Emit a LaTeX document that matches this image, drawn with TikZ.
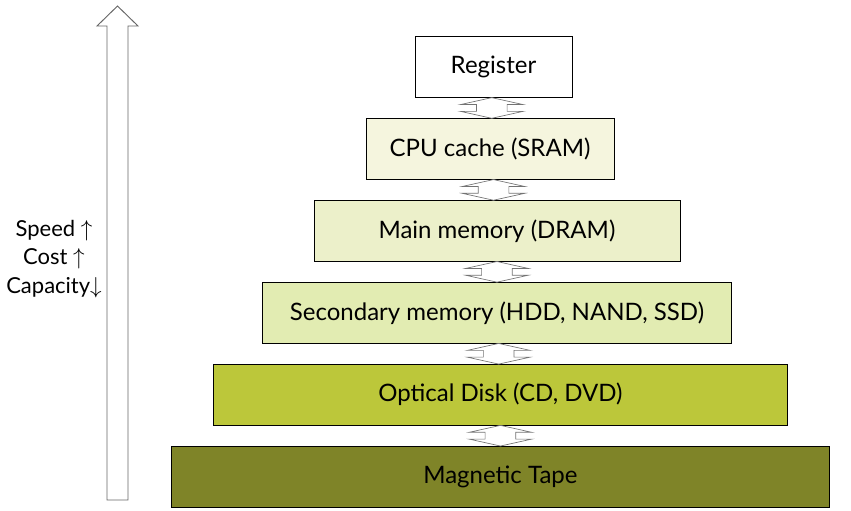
\documentclass[tikz,border=0pt]{standalone}
\usepackage{fontspec}
\setmainfont{Lato}
\usepackage{tikz}
\usetikzlibrary{positioning, calc, shapes.arrows}
\definecolor{cachefill}{RGB}{245,245,222}
\definecolor{mainfill}{RGB}{236,240,202}
\definecolor{secfill}{RGB}{226,236,178}
\definecolor{optfill}{RGB}{188,199,58}
\definecolor{tapefill}{RGB}{127,132,40}

\tikzset{
  level/.style={draw, line width=0.7pt, minimum height=45.75pt, inner sep=0pt,
    font=\fontsize{18}{21}\selectfont},
  updown/.style={double arrow, draw=black!55, fill=white, line width=0.5pt,
    rotate=90, inner xsep=0pt, inner ysep=11.25pt, minimum height=15.5pt,
    double arrow head extend=12pt, double arrow tip angle=155}
}

\begin{document}
\begin{tikzpicture}[x=0.75pt, y=-0.75pt, node distance=15pt]
\useasboundingbox (0,0) rectangle (851,511);

\node (reg) [level, minimum width=117.75pt] at (493.5,67) {Register};
\node (cpu) [level, fill=cachefill, minimum width=186pt, below=of reg, xshift=-2.6pt] {CPU cache (SRAM)};
\node (dram) [level, fill=mainfill, minimum width=274.5pt, below=of cpu, xshift=5.2pt] {Main memory (DRAM)};
\node (sec) [level, fill=secfill, minimum width=351.75pt, below=of dram] {Secondary memory (HDD, NAND, SSD)};
\node (opt) [level, fill=optfill, minimum width=430.5pt, below=of sec, xshift=2.6pt] {Optical Disk (CD, DVD)};
\node (tape) [level, fill=tapefill, minimum width=493.5pt, below=of opt] {Magnetic Tape};

\node [updown] at ($(reg.south)!0.5!(cpu.north)$) {};
\node [updown] at ($(cpu.south)!0.5!(dram.north)$) {};
\node [updown] at ($(dram.south)!0.5!(sec.north)$) {};
\node [updown] at ($(sec.south)!0.5!(opt.north)$) {};
\node [updown] at ($(opt.south)!0.5!(tape.north)$) {};

% big arrow on the left
\draw[black!60, fill=white, line width=0.7pt] (107,500) -- (107,26) -- (97,26) -- (117.5,6)
  -- (138,26) -- (128,26) -- (128,500) -- cycle;
\node (trend) [align=center, font=\fontsize{16.5}{21.5}\selectfont] at (54,259)
  {Speed $\uparrow$\\Cost $\uparrow$\\Capacity$\downarrow$};
\end{tikzpicture}
\end{document}
